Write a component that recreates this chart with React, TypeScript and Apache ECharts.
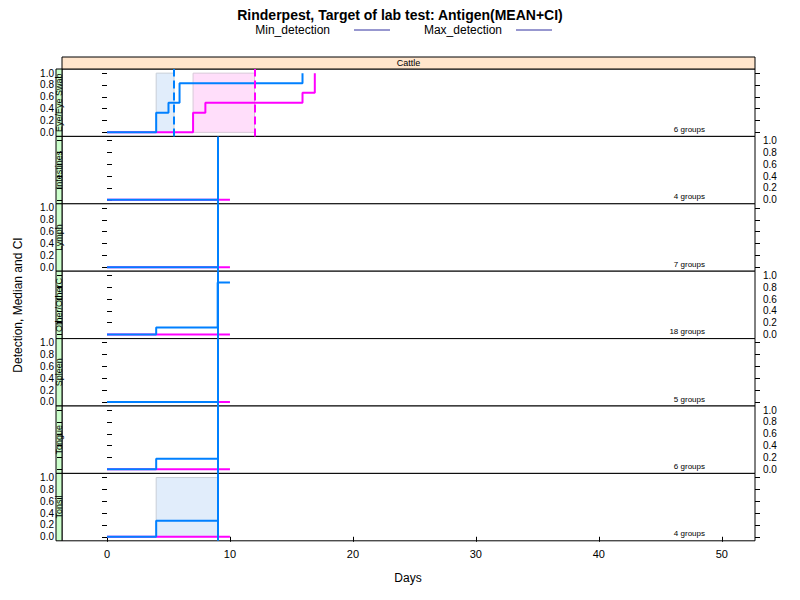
import React, { useEffect, useRef } from 'react';
import * as echarts from 'echarts';

const panels = ['Eye/Eye Swab', 'Intestines', 'Lymph', 'Other/OtherC', 'Spleen', 'Tongue', 'Tonsil'];
const groupLabels = ['6 groups', '4 groups', '7 groups', '18 groups', '5 groups', '6 groups', '4 groups'];
const xTicks = [0, 10, 20, 30, 40, 50];

// Min_detection (blue) step curves per panel
const minCurves: number[][][] = [
  [[0, 0], [4, 0], [4, 0.33], [5, 0.33], [5, 0.5], [5.9, 0.5], [5.9, 0.83], [15.9, 0.83], [15.9, 1.0]],
  [[0, 0], [9, 0]],
  [[0, 0], [9, 0]],
  [[0, 0], [4, 0], [4, 0.12], [9, 0.12], [9, 0.88], [10, 0.88]],
  [[0, 0], [9, 0]],
  [[0, 0], [4, 0], [4, 0.18], [9, 0.18]],
  [[0, 0], [4, 0], [4, 0.27], [9, 0.27]],
];
// Max_detection (magenta) step curves per panel
const maxCurves: number[][][] = [
  [[0, 0], [7, 0], [7, 0.33], [8, 0.33], [8, 0.5], [15.9, 0.5], [15.9, 0.67], [16.9, 0.67], [16.9, 1.0]],
  [[0, 0], [10, 0]],
  [[0, 0], [10, 0]],
  [[0, 0], [10, 0]],
  [[0, 0], [10, 0]],
  [[0, 0], [10, 0]],
  [[0, 0], [10, 0]],
];
// CI bands [x0, x1] (null = none)
const minBands: (number[] | null)[] = [[4, 5.45], null, null, null, null, null, [4, 9]];
const maxBands: (number[] | null)[] = [[7, 12], null, null, null, null, null, null];
// median vertical lines
const minMedian: (number | null)[] = [5.45, 9, 9, 9, 9, 9, 9];
const maxMedian: (number | null)[] = [12, null, null, null, null, null, null];
const yTicks = [0, 0.2, 0.4, 0.6, 0.8, 1.0];

const BLUE = '#0080ff';
const MAG = '#ff00ff';
const LEFT = 62;
const RIGHT = 755;
const TOP = 69;
const PH = 67.4;

const Chart: React.FC = () => {
  const ref = useRef<HTMLDivElement | null>(null);

  useEffect(() => {
    if (!ref.current) return;
    const chart = echarts.init(ref.current, undefined, { renderer: 'svg' });
    const font = 'Liberation Sans, Arial, sans-serif';

    const grids: any[] = [];
    const xAxes: any[] = [];
    const yAxes: any[] = [];
    const series: any[] = [];
    const graphics: any[] = [];

    panels.forEach((name, i) => {
      const top = TOP + i * PH;
      const last = i === panels.length - 1;
      const leftSide = i % 2 === 0;
      grids.push({ left: LEFT, width: RIGHT - LEFT, top, height: PH, show: true, borderColor: '#000', borderWidth: 1, backgroundColor: '#fff' });
      xAxes.push({
        gridIndex: i, type: 'value', min: -3.66, max: 52.7, interval: 10,
        customValues: xTicks,
        axisLine: { show: false }, splitLine: { show: false },
        axisTick: { show: last, inside: false, length: 5, lineStyle: { color: '#000' }, customValues: xTicks },
        axisLabel: { show: last, color: '#000', fontSize: 11, fontFamily: font, customValues: xTicks },
      });
      yAxes.push({
        gridIndex: i, type: 'value', min: -0.068, max: 1.07,
        position: leftSide ? 'left' : 'right',
        axisLine: { show: false }, splitLine: { show: false },
        axisTick: { show: true, length: 5, lineStyle: { color: '#000' }, customValues: yTicks },
        axisLabel: { show: true, color: '#000', fontSize: 10, fontFamily: font, margin: 8, customValues: yTicks, formatter: (v: number) => v.toFixed(1) },
      });
      // opposite ticks without labels
      yAxes.push({
        gridIndex: i, type: 'value', min: -0.068, max: 1.07,
        position: leftSide ? 'right' : 'left',
        axisLine: { show: false }, splitLine: { show: false },
        axisTick: { show: true, length: 5, lineStyle: { color: '#000' }, customValues: yTicks },
        axisLabel: { show: false },
      });
      const yIdx = i * 2;

      const minMarkArea = minBands[i] ? { silent: true, itemStyle: { color: 'rgba(180,210,245,0.4)', borderColor: '#c8cfd8', borderWidth: 1 }, data: [[{ xAxis: minBands[i]![0], yAxis: 0 }, { xAxis: minBands[i]![1], yAxis: 1 }]] } : undefined;
      const maxMarkArea = maxBands[i] ? { silent: true, itemStyle: { color: 'rgba(255,190,245,0.5)', borderColor: '#d8c8d8', borderWidth: 1 }, data: [[{ xAxis: maxBands[i]![0], yAxis: 0 }, { xAxis: maxBands[i]![1], yAxis: 1 }]] } : undefined;

      series.push({
        type: 'line', xAxisIndex: i, yAxisIndex: yIdx, data: [], silent: true,
        markArea: minMarkArea,
      });
      series.push({
        type: 'line', xAxisIndex: i, yAxisIndex: yIdx, data: [], silent: true,
        markArea: maxMarkArea,
      });
      series.push({
        type: 'line', xAxisIndex: i, yAxisIndex: yIdx, data: maxCurves[i], showSymbol: false,
        lineStyle: { color: MAG, width: 2 }, z: 3,
        markLine: maxMedian[i] != null ? {
          symbol: 'none', silent: true, label: { show: false },
          lineStyle: { color: MAG, width: 2, type: [8, 4] },
          data: [[{ coord: [maxMedian[i], -0.068] }, { coord: [maxMedian[i], 1.07] }]],
        } : undefined,
      });
      series.push({
        type: 'line', xAxisIndex: i, yAxisIndex: yIdx, data: minCurves[i], showSymbol: false,
        lineStyle: { color: BLUE, width: 2 }, z: 4,
        markLine: minMedian[i] != null ? {
          symbol: 'none', silent: true, label: { show: false },
          lineStyle: { color: BLUE, width: 2, type: i === 0 ? [8, 4] : 'solid' },
          data: [[{ coord: [minMedian[i], -0.068] }, { coord: [minMedian[i], 1.07] }]],
        } : undefined,
      });

      // left strip with panel label
      graphics.push({ type: 'rect', shape: { x: 56, y: top, width: 6, height: PH }, style: { fill: '#ccffcc', stroke: '#000', lineWidth: 1 } });
      graphics.push({
        type: 'text', x: 59, y: top + PH / 2, rotation: Math.PI / 2,
        style: { text: name, fontSize: 9, fontFamily: font, fill: '#000', align: 'center', verticalAlign: 'middle' },
      });
      graphics.push({
        type: 'text', x: 705, y: top + PH - 7,
        style: { text: groupLabels[i], fontSize: 8, fontFamily: font, fill: '#000', align: 'right', verticalAlign: 'middle' },
      });
    });

    // top strip
    graphics.push({ type: 'rect', shape: { x: LEFT, y: 57, width: RIGHT - LEFT, height: 12 }, style: { fill: '#ffe5cc', stroke: '#000', lineWidth: 1 } });
    graphics.push({ type: 'text', x: (LEFT + RIGHT) / 2, y: 63, style: { text: 'Cattle', fontSize: 9, fontFamily: font, fill: '#000', align: 'center', verticalAlign: 'middle' } });
    // legend
    graphics.push({ type: 'text', x: 330, y: 30, style: { text: 'Min_detection', fontSize: 12, fontFamily: font, fill: '#000', align: 'right', verticalAlign: 'middle' } });
    graphics.push({ type: 'line', shape: { x1: 354, y1: 30, x2: 390, y2: 30 }, style: { stroke: '#3030a0', lineWidth: 1 } });
    graphics.push({ type: 'text', x: 502, y: 30, style: { text: 'Max_detection', fontSize: 12, fontFamily: font, fill: '#000', align: 'right', verticalAlign: 'middle' } });
    graphics.push({ type: 'line', shape: { x1: 516, y1: 30, x2: 552, y2: 30 }, style: { stroke: '#3030a0', lineWidth: 1 } });
    // axis titles
    graphics.push({ type: 'text', x: 18, y: 305, rotation: Math.PI / 2, style: { text: 'Detection, Median and CI', fontSize: 12, fontFamily: font, fill: '#000', align: 'center', verticalAlign: 'middle' } });
    graphics.push({ type: 'text', x: 408, y: 578, style: { text: 'Days', fontSize: 12, fontFamily: font, fill: '#000', align: 'center', verticalAlign: 'middle' } });

    const option: echarts.EChartsOption = {
      animation: false,
      backgroundColor: '#fff',
      title: {
        text: 'Rinderpest, Target of lab test: Antigen(MEAN+CI)',
        left: 'center', top: 3,
        textStyle: { fontSize: 14, fontWeight: 'bold', fontFamily: font, color: '#000' },
      },
      grid: grids,
      xAxis: xAxes,
      yAxis: yAxes,
      series,
      graphic: graphics,
    };
    chart.setOption(option);
    return () => chart.dispose();
  }, []);

  return <div ref={ref} style={{ width: 800, height: 600, margin: -8 }} />;
};

export default function App() {
  return <Chart />;
}
